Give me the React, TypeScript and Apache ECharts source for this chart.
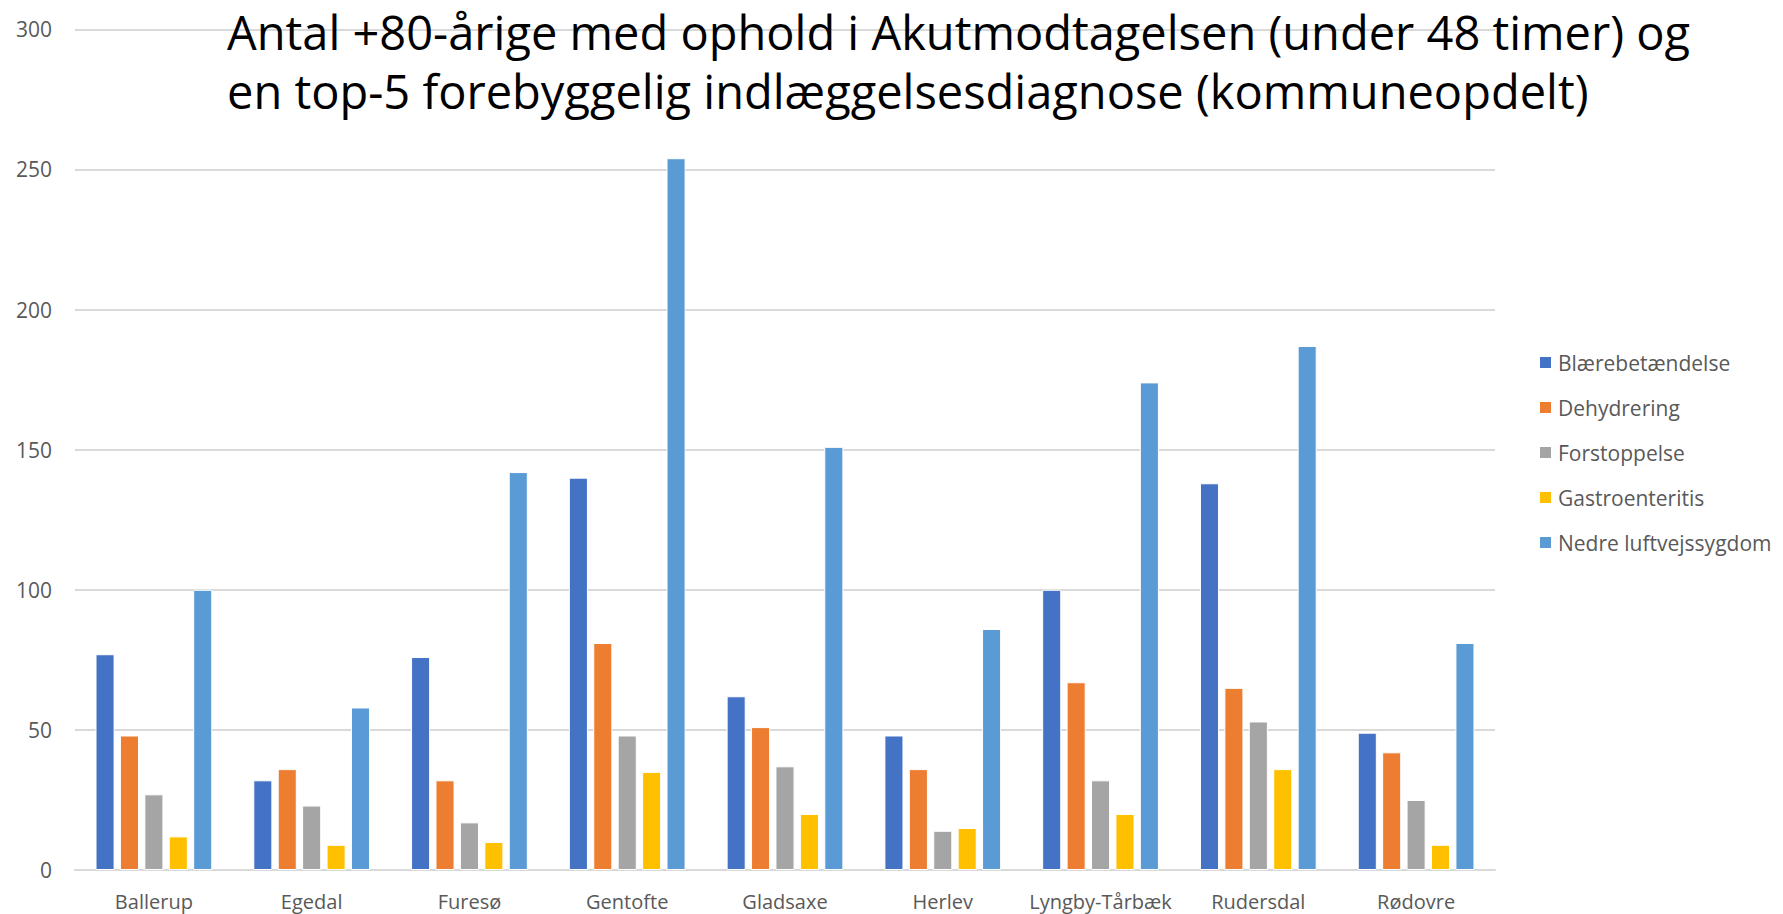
import React, { useEffect, useRef } from "react";
import * as echarts from "echarts";

const categories = ["Ballerup", "Egedal", "Furesø", "Gentofte", "Gladsaxe", "Herlev", "Lyngby-Tårbæk", "Rudersdal", "Rødovre"];
const seriesNames = ["Blærebetændelse", "Dehydrering", "Forstoppelse", "Gastroenteritis", "Nedre luftvejssygdom"];
const blaerebetaendelse = [77, 32, 76, 140, 62, 48, 100, 138, 49];
const dehydrering = [48, 36, 32, 81, 51, 36, 67, 65, 42];
const forstoppelse = [27, 23, 17, 48, 37, 14, 32, 53, 25];
const gastroenteritis = [12, 9, 10, 35, 20, 15, 20, 36, 9];
const nedreLuftvej = [100, 58, 142, 254, 151, 86, 174, 187, 81];
const seriesData = [blaerebetaendelse, dehydrering, forstoppelse, gastroenteritis, nedreLuftvej];
const colors = ["#4472C4", "#ED7D31", "#A5A5A5", "#FFC000", "#5B9BD5"];
const titleLines = [
  "Antal +80-årige med ophold i Akutmodtagelsen (under 48 timer) og",
  "en top-5 forebyggelig indlæggelsesdiagnose (kommuneopdelt)",
];

const FONT = "'Open Sans', Lato, sans-serif";

export default function App() {
  const ref = useRef<HTMLDivElement>(null);
  useEffect(() => {
    if (!ref.current) return;
    const chart = echarts.init(ref.current, null, { renderer: "svg" });
    chart.setOption({
      animation: false,
      backgroundColor: "#fff",
      textStyle: { fontFamily: FONT },
      title: titleLines.map((t, i) => ({
        text: t,
        left: 227,
        top: 7 + i * 59,
        padding: 0,
        textStyle: { fontFamily: FONT, fontSize: 47, fontWeight: "normal", color: "#000", lineHeight: 50 },
      })),
      legend: {
        orient: "vertical",
        left: 1533,
        top: 347,
        itemWidth: 13,
        itemHeight: 13,
        itemGap: 24,
        icon: "rect",
        data: seriesNames,
        textStyle: { fontFamily: FONT, fontSize: 21, color: "#595959", lineHeight: 21, padding: [0, 0, 0, 1] },
      },
      grid: { left: 75, right: 288, top: 29.3, bottom: 44, containLabel: false },
      xAxis: {
        type: "category",
        data: categories,
        axisLine: { lineStyle: { color: "#D9D9D9", width: 2 } },
        axisTick: { show: false },
        axisLabel: { color: "#595959", fontSize: 20, margin: 21, fontFamily: FONT, interval: 0 },
      },
      yAxis: {
        type: "value",
        min: 0,
        max: 300,
        interval: 50,
        axisLine: { show: false },
        axisTick: { show: false },
        splitLine: { lineStyle: { color: "#D9D9D9", width: 2 } },
        axisLabel: { color: "#595959", fontSize: 21, margin: 23, fontFamily: FONT },
      },
      series: seriesNames.map((name, i) => ({
        name,
        type: "bar",
        data: seriesData[i],
        barGap: "28%",
        barCategoryGap: "26%",
        itemStyle: { color: colors[i], borderColor: "#fff", borderWidth: 1 },
      })),
    });
    return () => chart.dispose();
  }, []);
  return <div ref={ref} style={{ width: 1783, height: 914, position: "absolute", left: 0, top: 0 }} />;
}
